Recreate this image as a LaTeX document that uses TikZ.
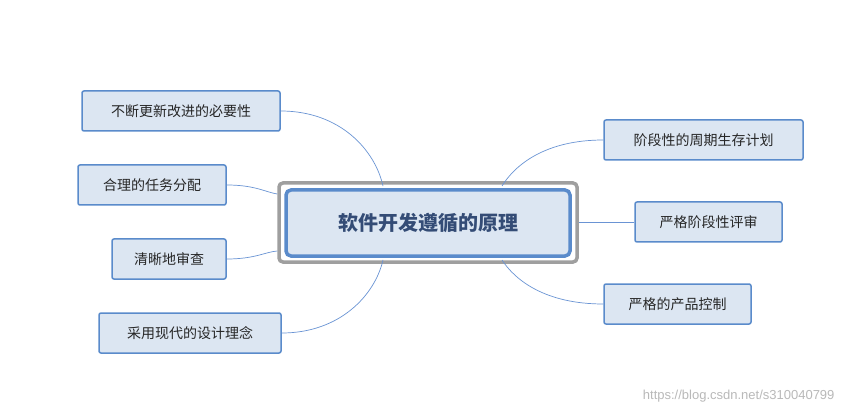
\documentclass[tikz,border=0pt]{standalone}
\usepackage{fontspec}
\setmainfont{Noto Sans CJK SC}
\setsansfont{Liberation Sans}
\begin{document}
\begin{tikzpicture}[x=1pt,y=-1pt,
  leaf/.style={fill=leafFill, draw=leafLine, line width=1.5pt, rounded corners=2pt, font=\fontsize{14}{16}\selectfont, text=black!85, inner sep=0pt, minimum height=40pt},
  link/.style={draw=linkC, line width=0.7pt}]
\definecolor{leafFill}{HTML}{DCE6F2}
\definecolor{leafLine}{HTML}{5A8BCB}
\definecolor{linkC}{HTML}{6A94D4}
\useasboundingbox (0,0) rectangle (846,414);
\fill[white] (0,0) rectangle (846,414);
% center
\node[draw=gray!75, line width=3.5pt, rounded corners=4pt, minimum width=298pt, minimum height=79pt, inner sep=0pt] (outer) at (428,222.5) {};
\node[draw=leafLine, fill=leafFill, line width=3.5pt, rounded corners=5pt, minimum width=284pt, minimum height=66pt, inner sep=0pt, font=\bfseries\fontsize{20}{22}\selectfont, text={rgb,255:red,52;green,76;blue,118}] (c) at (428,223) {软件开发遵循的原理};
\node[leaf, minimum width=198pt] (l1) at (181,111) {不断更新改进的必要性};
\node[leaf, minimum width=148pt] (l2) at (152,185) {合理的任务分配};
\node[leaf, minimum width=114pt] (l3) at (169,259) {清晰地审查};
\node[leaf, minimum width=182pt] (l4) at (190,333) {采用现代的设计理念};
\node[leaf, minimum width=199pt] (r1) at (703.5,140) {阶段性的周期生存计划};
\node[leaf, minimum width=147pt] (r2) at (708.5,222) {严格阶段性评审};
\node[leaf, minimum width=147pt] (r3) at (677.5,304) {严格的产品控制};
\coordinate (ct1) at (383,186);
\coordinate (ct2) at (502,186);
\coordinate (cb1) at (383,260);
\coordinate (cb2) at (502,260);
\draw[link] (l1.east) .. controls (340,111) and (375,150) .. (ct1);
\draw[link] (l2.east) .. controls (255,185) and (265,192) .. (outer.west |- 0,194);
\draw[link] (l3.east) .. controls (255,259) and (265,252) .. (outer.west |- 0,251);
\draw[link] (l4.east) .. controls (340,333) and (375,295) .. (cb1);
\draw[link] (r1.west) .. controls (545,140) and (515,165) .. (ct2);
\draw[link] (r2.west) -- (outer.east |- r2.west);
\draw[link] (r3.west) .. controls (545,304) and (515,280) .. (cb2);
\node[font=\sffamily\fontsize{13}{15}\selectfont, text=gray!55, anchor=east] (wm) at (838,396) {https://blog.csdn.net/s310040799};
\end{tikzpicture}
\end{document}
